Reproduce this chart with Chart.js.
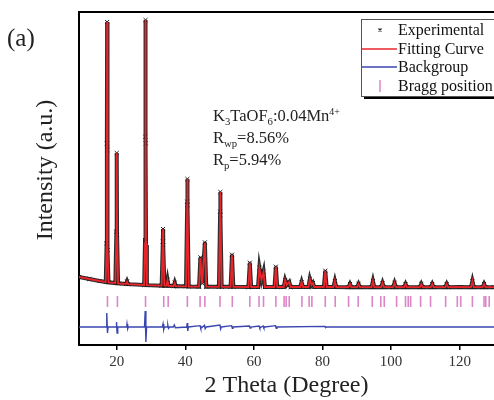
<!DOCTYPE html>
<html lang="en">
<head>
<meta charset="UTF-8">
<title>K3TaOF6:0.04Mn4+ refinement</title>
<script src="https://cdn.jsdelivr.net/npm/chart.js"></script>
<style>
  body { margin: 0; background: #fff; overflow: hidden; }
  #wrap { width: 494px; height: 400px; }
</style>
</head>
<body>
<div id="wrap"><canvas id="xrd" width="494" height="400"></canvas></div>
<script>
// 2 theta (degree) of the profile points
const twoTheta = [
  9.0, 12.0, 15.0, 16.8, 17.05, 17.13, 17.2, 17.27, 17.35, 17.6,
  19.6, 19.9, 20.0, 20.1, 20.4, 22.7, 23.0, 23.3,
  28.0, 28.25, 28.33, 28.4, 28.47, 28.55, 28.8,
  33.1, 33.45, 33.5, 33.55, 33.9, 34.5, 34.8, 35.1, 36.6, 36.9, 37.2,
  40.2, 40.55, 40.6, 40.65, 41.0, 44.0, 44.4, 44.9, 45.7, 46.1,
  49.8, 50.15, 50.2, 50.25, 50.6, 53.2, 53.6, 54.0,
  58.4, 58.8, 59.2, 61.2, 61.6, 62.2, 62.8, 63.2, 66.0, 66.4, 66.8,
  68.7, 69.1, 69.6, 70.3, 70.7, 73.5, 73.9, 74.3, 75.9, 76.3, 76.8, 77.2, 77.6,
  80.4, 80.8, 81.2, 83.2, 83.6, 84.0, 87.6, 88.0, 88.4, 90.1, 90.5, 90.9,
  94.3, 94.7, 95.1, 97.1, 97.5, 97.9, 100.6, 101.0, 101.4, 103.8, 104.2, 104.6,
  108.4, 108.8, 109.2, 111.6, 112.0, 112.4, 115.8, 116.2, 116.6,
  120.0, 123.3, 123.7, 124.1, 126.7, 127.1, 127.5, 130.0
];
// calculated (Rietveld fit) intensity
const fitted = [
  1290, 1230, 1170, 1140, 2200, 5200, 8940, 5200, 2200, 1130,
  1110, 2600, 5010, 2600, 1100, 1080, 1150, 1075,
  1050, 2300, 5400, 9000, 5400, 2300, 1045,
  1030, 2300, 2730, 2300, 1030, 1030, 1200, 1025, 1020, 1110, 1015,
  1010, 3500, 4230, 3500, 1005, 1000, 1860, 1100, 2310, 1000,
  995, 3200, 3840, 3200, 995, 995, 1950, 995,
  990, 1710, 990, 990, 1560, 1200, 1440, 990, 990, 1590, 990,
  990, 1200, 1050, 1140, 990, 990, 1140, 990, 990, 1230, 1050, 1110, 990,
  990, 1470, 990, 990, 1170, 990, 985, 1080, 985, 985, 1080, 985,
  985, 1170, 985, 985, 1110, 985, 985, 1110, 985, 985, 1080, 985,
  985, 1080, 985, 985, 1080, 985, 985, 1080, 985,
  990, 985, 1170, 985, 985, 1080, 985, 985
];
// measured intensity at the same angles
const observed = [
  1290, 1230, 1170, 1140, 2300, 5300, 8940, 5100, 2100, 1130,
  1110, 2650, 5010, 2550, 1100, 1080, 1160, 1075,
  1050, 2400, 5500, 9000, 5300, 2250, 1045,
  1030, 2350, 2730, 2250, 1030, 1030, 1210, 1025, 1020, 1120, 1015,
  1010, 3550, 4230, 3450, 1005, 1000, 1880, 1100, 2330, 1000,
  995, 3250, 3840, 3150, 995, 995, 1960, 995,
  990, 1720, 990, 990, 1570, 1200, 1450, 990, 990, 1600, 990,
  990, 1200, 1050, 1140, 990, 990, 1140, 990, 990, 1230, 1050, 1110, 990,
  990, 1480, 990, 990, 1170, 990, 985, 1080, 985, 985, 1080, 985,
  985, 1170, 985, 985, 1110, 985, 985, 1110, 985, 985, 1080, 985,
  985, 1080, 985, 985, 1080, 985, 985, 1080, 985,
  990, 985, 1170, 985, 985, 1080, 985, 985
];

// difference curve (observed - calculated), shifted below the pattern
const diffTheta = [
  9.0, 16.9, 17.1, 17.3, 17.5, 19.8, 19.95, 20.1, 20.3, 22.9, 23.0, 23.2, 23.4,
  28.1, 28.3, 28.5, 28.7, 33.3, 33.5, 33.7, 33.9, 34.7, 34.9, 35.1, 35.4, 36.5, 36.8, 37.1,
  40.4, 40.55, 40.7, 40.9, 44.3, 44.5, 45.6, 45.8, 46.1, 50.1, 50.3, 50.5,
  53.5, 53.7, 53.9, 58.7, 58.9, 59.1, 61.5, 61.7, 62.7, 62.9, 63.2, 66.3, 66.5, 66.7,
  80.7, 80.9, 81.1, 130.0
];
const difference = [
  -210, -210, 210, -390, -210, -210, -60, -390, -210, -210, -120, -260, -210,
  -210, 270, -660, -210, -210, -120, -280, -210, -210, -150, -250, -210, -210, -150, -230,
  -210, -90, -330, -210, -170, -250, -160, -260, -210, -150, -270, -210,
  -170, -250, -210, -180, -240, -210, -180, -240, -180, -235, -210, -170, -250, -210,
  -190, -230, -210, -210
];

// reflection positions (2 theta)
const braggPos = [
  17.3, 20.2, 28.4, 33.7, 35.0, 40.6, 44.3, 45.7, 50.1, 53.7, 58.8, 61.5, 62.8, 66.4, 68.8,
  69.4, 70.3, 74.0, 76.1, 76.9, 80.8, 83.7, 87.6, 90.4, 94.5, 97.0, 98.0, 101.6,
  104.2, 105.0, 105.7, 108.6, 111.5, 115.9, 119.3, 120.3, 123.7, 127.1, 127.6, 128.6
];
const braggRow = 555;

const tickValues = [20, 40, 60, 80, 100, 120];

const serif = '"Liberation Serif", "Times New Roman", serif';
const RED = '#e8252b';
const BLUE = '#3b47b0';
const PINK = '#dc86c8';

const pts = (xs, ys) => xs.map((x, i) => ({ x: x, y: ys[i] }));

// text with sub/superscript pieces: [text, 'n' | 'sub' | 'sup']
function richText(ctx, x, y, parts, size) {
  ctx.textBaseline = 'alphabetic';
  ctx.textAlign = 'left';
  parts.forEach(([txt, kind]) => {
    let fs = size, dy = 0;
    if (kind === 'sub') { fs = size * 0.65; dy = 4; }
    if (kind === 'sup') { fs = size * 0.6; dy = -6; }
    ctx.font = fs + 'px ' + serif;
    ctx.fillText(txt, x, y + dy);
    x += ctx.measureText(txt).width;
  });
}

const extras = {
  id: 'extras',
  afterDraw(chart) {
    const ctx = chart.ctx;
    const a = chart.chartArea;
    ctx.save();

    // top frame line
    ctx.strokeStyle = '#000';
    ctx.lineWidth = 2;
    ctx.beginPath();
    ctx.moveTo(a.left - 1, a.top);
    ctx.lineTo(a.right, a.top);
    ctx.stroke();

    // panel label
    ctx.fillStyle = '#222';
    ctx.font = '25px ' + serif;
    ctx.textBaseline = 'middle';
    ctx.fillText('(a)', 7, 39);

    // y axis title
    ctx.save();
    ctx.translate(46, 170);
    ctx.rotate(-Math.PI / 2);
    ctx.textAlign = 'center';
    ctx.font = '24px ' + serif;
    ctx.fillText('Intensity (a.u.)', 0, 0);
    ctx.restore();

    // refinement info
    ctx.fillStyle = '#222';
    richText(ctx, 213, 121, [['K', 'n'], ['3', 'sub'], ['TaOF', 'n'], ['6', 'sub'], [':0.04Mn', 'n'], ['4+', 'sup']], 16.5);
    richText(ctx, 213, 143, [['R', 'n'], ['wp', 'sub'], ['=8.56%', 'n']], 16.5);
    richText(ctx, 213, 165, [['R', 'n'], ['p', 'sub'], ['=5.94%', 'n']], 16.5);

    // legend box with shadow
    const bx = 361, by = 19, bw = 140, bh = 77;
    ctx.fillStyle = '#000';
    ctx.fillRect(bx + 3, by + bh, bw, 3);
    ctx.fillStyle = '#fff';
    ctx.fillRect(bx, by, bw, bh);
    ctx.strokeStyle = '#555';
    ctx.lineWidth = 1;
    ctx.strokeRect(bx + 0.5, by + 0.5, bw, bh);

    const rows = [30, 49, 67, 86];
    const labels = ['Experimental', 'Fitting Curve', 'Backgroup', 'Bragg position'];
    // cross marker
    ctx.strokeStyle = '#222';
    ctx.lineWidth = 1.2;
    ctx.beginPath();
    ctx.moveTo(378.5, rows[0] - 1.5); ctx.lineTo(381.5, rows[0] + 1.5);
    ctx.moveTo(381.5, rows[0] - 1.5); ctx.lineTo(378.5, rows[0] + 1.5);
    ctx.stroke();
    // line samples
    ctx.lineWidth = 1.5;
    ctx.strokeStyle = RED;
    ctx.beginPath(); ctx.moveTo(362, rows[1]); ctx.lineTo(397, rows[1]); ctx.stroke();
    ctx.strokeStyle = BLUE;
    ctx.beginPath(); ctx.moveTo(362, rows[2]); ctx.lineTo(397, rows[2]); ctx.stroke();
    ctx.strokeStyle = PINK;
    ctx.beginPath(); ctx.moveTo(380, rows[3] - 6); ctx.lineTo(380, rows[3] + 6); ctx.stroke();

    ctx.fillStyle = '#111';
    ctx.font = '16px ' + serif;
    ctx.textBaseline = 'middle';
    labels.forEach((t, i) => ctx.fillText(t, 398, rows[i] + 1));

    ctx.restore();
  }
};

new Chart(document.getElementById('xrd'), {
  type: 'scatter',
  data: {
    datasets: [
      {
        label: 'Fitting Curve',
        data: pts(twoTheta, fitted),
        showLine: true,
        borderColor: RED,
        borderWidth: 1.8,
        pointRadius: 0
      },
      {
        label: 'Experimental',
        data: pts(twoTheta, observed),
        showLine: true,
        borderColor: 'rgba(20,20,20,0.9)',
        borderWidth: 4,
        pointStyle: 'crossRot',
        pointRadius: 2.8,
        pointBorderColor: '#111',
        pointBorderWidth: 1
      },
      {
        label: 'Backgroup',
        data: pts(diffTheta, difference),
        showLine: true,
        borderColor: BLUE,
        borderWidth: 1.4,
        pointRadius: 0
      },
      {
        label: 'Bragg position',
        data: braggPos.map(x => ({ x: x, y: braggRow })),
        pointStyle: 'line',
        rotation: 90,
        pointRadius: 5.5,
        borderColor: PINK,
        pointBorderWidth: 1.6
      }
    ]
  },
  options: {
    responsive: false,
    animation: false,
    layout: { autoPadding: false, padding: { top: 12, right: 0, left: 0, bottom: 0 } },
    plugins: { legend: { display: false }, tooltip: { enabled: false } },
    scales: {
      x: {
        type: 'linear',
        min: 9,
        max: 130,
        afterBuildTicks: s => { s.ticks = tickValues.map(v => ({ value: v })); },
        afterFit: s => { s.height = 55; },
        grid: { drawOnChartArea: false, drawTicks: true, tickLength: 5, color: '#000', lineWidth: 1.5 },
        border: { display: true, color: '#000', width: 2 },
        ticks: { color: '#333', font: { family: serif, size: 15 }, padding: 3, maxRotation: 0 },
        title: { display: true, text: '2 Theta (Degree)', color: '#222', font: { family: serif, size: 24 }, padding: { top: 0, bottom: 0 } }
      },
      y: {
        min: -750,
        max: 9240,
        afterFit: s => { s.width = 79; },
        grid: { display: false },
        border: { display: true, color: '#000', width: 2 },
        ticks: { display: false },
        title: { display: false }
      }
    }
  },
  plugins: [extras]
});
</script>
</body>
</html>
